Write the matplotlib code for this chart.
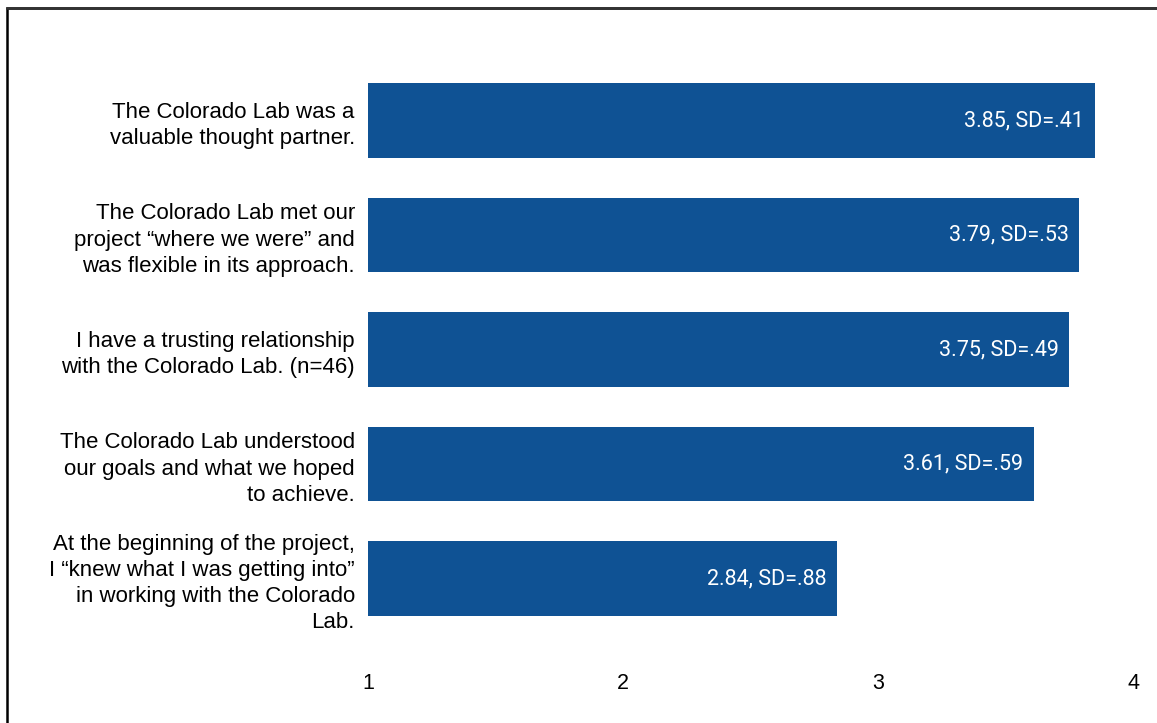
import matplotlib
matplotlib.use("Agg")
import matplotlib.pyplot as plt
from matplotlib.patches import Rectangle

categories = [
    "The Colorado Lab was a\nvaluable thought partner.",
    "The Colorado Lab met our\nproject \u201cwhere we were\u201d and\nwas flexible in its approach.",
    "I have a trusting relationship\nwith the Colorado Lab. (n=46)",
    "The Colorado Lab understood\nour goals and what we hoped\nto achieve.",
    "At the beginning of the project,\nI \u201cknew what I was getting into\u201d\nin working with the Colorado\nLab.",
]
means = [3.85, 3.79, 3.75, 3.61, 2.84]
sds = [".41", ".53", ".49", ".59", ".88"]
xticks = [1, 2, 3, 4]

W, H = 1157, 723
fig = plt.figure(figsize=(W / 100, H / 100), dpi=100)
ax = fig.add_axes([368 / W, (H - 635.75) / H, (1133 - 368) / W, 572.5 / H])

color = "#0F5294"
ypos = list(range(len(categories)))
ax.barh(ypos, [m - 1 for m in means], left=1, height=0.655, color=color,
        linewidth=0)

for y, m, s in zip(ypos, means, sds):
    ax.annotate(f"{m:.2f}, SD={s}", xy=(m, y), xytext=(-7.5, 0),
                textcoords="offset points", ha="right", va="center",
                color="white", fontsize=15.5, family="Roboto")

ax.set_xlim(1, 4)
ax.set_ylim(len(categories) - 0.5, -0.5)
ax.set_xticks(xticks)
ax.set_xticklabels([str(t) for t in xticks], family="Liberation Sans", fontsize=15.5)
ax.set_yticks(ypos)
ax.set_yticklabels(categories, family="Liberation Sans", fontsize=16,
                   ha="right", linespacing=1.32)
ax.tick_params(axis="x", length=0, pad=26.5)
ax.tick_params(axis="y", length=0, pad=9.5)
for sp in ax.spines.values():
    sp.set_visible(False)

# border
fig.add_artist(Rectangle((6.5 / W, -0.1), 1.5, (H - 8) / H + 0.1,
                         transform=fig.transFigure, fill=False,
                         edgecolor="black", linewidth=1.8))
fig.add_artist(plt.Line2D([6.5 / W, 1], [(H - 8) / H] * 2,
                          transform=fig.transFigure, color="#333333", linewidth=1.8))

fig.savefig("out.png", dpi=100)
